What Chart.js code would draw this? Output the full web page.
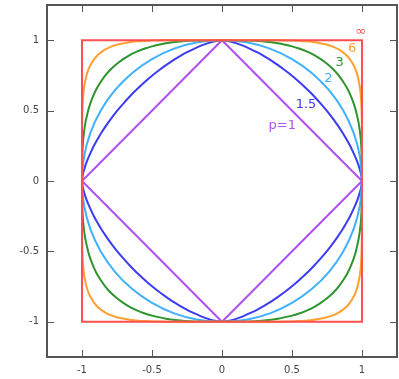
<!DOCTYPE html>
<html>
<head>
<meta charset="utf-8">
<script src="https://cdn.jsdelivr.net/npm/chart.js@4"></script>
<style>
  html, body { margin: 0; padding: 0; background: #fff; }
  canvas { display: block; }
</style>
</head>
<body>
<canvas id="chart" width="399" height="379"></canvas>
<script>
// first-quadrant points of each unit circle, from (1,0) to (0,1)
const p1X = [1, 0];
const p1Y = [0, 1];
const p15X = [1, 0.993, 0.979, 0.961, 0.939, 0.915, 0.887, 0.857, 0.823, 0.787, 0.748, 0.705, 0.659, 0.630,
              0.6, 0.55, 0.5, 0.45, 0.4, 0.35, 0.3, 0.25, 0.2, 0.15, 0.1, 0.05, 0];
const p15Y = [0, 0.05, 0.1, 0.15, 0.2, 0.25, 0.3, 0.35, 0.4, 0.45, 0.5, 0.55, 0.6, 0.630,
              0.659, 0.705, 0.748, 0.787, 0.823, 0.857, 0.887, 0.915, 0.939, 0.961, 0.979, 0.993, 1];
const p2X = [1, 0.985, 0.940, 0.866, 0.766, 0.643, 0.5, 0.342, 0.174, 0];
const p2Y = [0, 0.174, 0.342, 0.5, 0.643, 0.766, 0.866, 0.940, 0.985, 1];
const p3X = [1, 1.0, 0.997, 0.991, 0.978, 0.956, 0.941, 0.922, 0.899, 0.869, 0.833, 0.794,
             0.75, 0.7, 0.65, 0.6, 0.55, 0.5, 0.4, 0.3, 0.2, 0.1, 0];
const p3Y = [0, 0.1, 0.2, 0.3, 0.4, 0.5, 0.55, 0.6, 0.65, 0.7, 0.75, 0.794,
             0.833, 0.869, 0.899, 0.922, 0.941, 0.956, 0.978, 0.991, 0.997, 1.0, 1];
const p6X = [1, 1.0, 0.999, 0.997, 0.995, 0.992, 0.987, 0.979, 0.968, 0.951, 0.936, 0.917, 0.891,
             0.86, 0.83, 0.8, 0.75, 0.7, 0.65, 0.6, 0.55, 0.5, 0.4, 0.3, 0];
const p6Y = [0, 0.3, 0.4, 0.5, 0.55, 0.6, 0.65, 0.7, 0.75, 0.8, 0.83, 0.86, 0.891,
             0.917, 0.936, 0.951, 0.968, 0.979, 0.987, 0.992, 0.995, 0.997, 0.999, 1.0, 1];
const pInfX = [1, 1, 0];
const pInfY = [0, 1, 1];

const curveLabels = ['p=1', '1.5', '2', '3', '6', '\u221e'];
const labelX = [0.43, 0.6, 0.76, 0.84, 0.93, 0.99];
const labelY = [0.39, 0.54, 0.73, 0.84, 0.94, 1.06];
const curveColors = ['#b050f0', '#3c3cf0', '#40b0ff', '#2e942e', '#ffa030', '#ff5050'];

const xTicks = [-1, -0.5, 0, 0.5, 1];
const xTickLabels = ['-1', '-0.5', '0', '0.5', '1'];
const yTicks = [-1, -0.5, 0, 0.5, 1];
const yTickLabels = ['-1', '-0.5', '0', '0.5', '1'];

// go round the four quadrants by mirroring the first one
function loop(qx, qy) {
  const pts = [];
  const n = qx.length;
  for (let i = 0; i < n; i++) pts.push({ x: qx[i], y: qy[i] });
  for (let i = n - 2; i >= 0; i--) pts.push({ x: -qx[i], y: qy[i] });
  for (let i = 1; i < n; i++) pts.push({ x: -qx[i], y: -qy[i] });
  for (let i = n - 2; i >= 0; i--) pts.push({ x: qx[i], y: -qy[i] });
  return pts;
}

const quads = [[p1X, p1Y], [p15X, p15Y], [p2X, p2Y], [p3X, p3Y], [p6X, p6Y], [pInfX, pInfY]];
const smooth = [false, true, true, true, true, false];

const datasets = quads.map((q, i) => ({
  label: curveLabels[i],
  data: loop(q[0], q[1]),
  showLine: true,
  borderColor: curveColors[i],
  borderWidth: 2,
  pointRadius: 0,
  tension: smooth[i] ? 0.3 : 0,
  order: quads.length - i
}));

const frame = {
  id: 'frame',
  afterDraw(chart) {
    const ctx = chart.ctx;
    const a = chart.chartArea;
    const xs = chart.scales.x, ys = chart.scales.y;
    ctx.save();
    ctx.strokeStyle = '#555';
    ctx.lineWidth = 1;
    ctx.beginPath();
    xTicks.forEach(v => {
      const px = Math.round(xs.getPixelForValue(v)) + 0.5;
      ctx.moveTo(px, a.bottom); ctx.lineTo(px, a.bottom - 7);
      ctx.moveTo(px, a.top); ctx.lineTo(px, a.top + 7);
    });
    yTicks.forEach(v => {
      const py = Math.round(ys.getPixelForValue(v)) + 0.5;
      ctx.moveTo(a.left, py); ctx.lineTo(a.left + 7, py);
      ctx.moveTo(a.right, py); ctx.lineTo(a.right - 7, py);
    });
    ctx.stroke();
    ctx.lineWidth = 2;
    ctx.strokeRect(a.left, a.top, a.right - a.left, a.bottom - a.top);

    ctx.font = '13px "DejaVu Sans", sans-serif';
    ctx.textAlign = 'center';
    ctx.textBaseline = 'middle';
    curveLabels.forEach((t, i) => {
      ctx.fillStyle = curveColors[i];
      if (i === 5) ctx.font = '13px "DejaVu Sans", sans-serif';
      ctx.fillText(t, xs.getPixelForValue(labelX[i]), ys.getPixelForValue(labelY[i]));
    });
    ctx.restore();
  }
};

new Chart(document.getElementById('chart'), {
  type: 'scatter',
  data: { datasets: datasets },
  options: {
    responsive: false,
    animation: false,
    layout: { padding: { top: 5, right: 2, left: 0, bottom: 0 } },
    plugins: { legend: { display: false }, tooltip: { enabled: false } },
    scales: {
      x: {
        type: 'linear',
        min: -1.25,
        max: 1.25,
        grid: { display: false, drawTicks: false },
        border: { display: false },
        afterBuildTicks: s => { s.ticks = xTicks.map(v => ({ value: v })); },
        afterFit: s => { s.height = 22; s.paddingLeft = 0; s.paddingRight = 0; },
        ticks: {
          color: '#444',
          padding: 7,
          maxRotation: 0,
          font: { family: '"DejaVu Sans", sans-serif', size: 10 },
          callback: (v, i) => xTickLabels[i]
        }
      },
      y: {
        type: 'linear',
        min: -1.25,
        max: 1.25,
        grid: { display: false, drawTicks: false },
        border: { display: false },
        afterBuildTicks: s => { s.ticks = yTicks.map(v => ({ value: v })); },
        afterFit: s => { s.width = 47; s.paddingTop = 0; s.paddingBottom = 0; },
        ticks: {
          color: '#444',
          padding: 8,
          font: { family: '"DejaVu Sans", sans-serif', size: 10 },
          callback: (v, i) => yTickLabels[i]
        }
      }
    }
  },
  plugins: [frame]
});
</script>
</body>
</html>
